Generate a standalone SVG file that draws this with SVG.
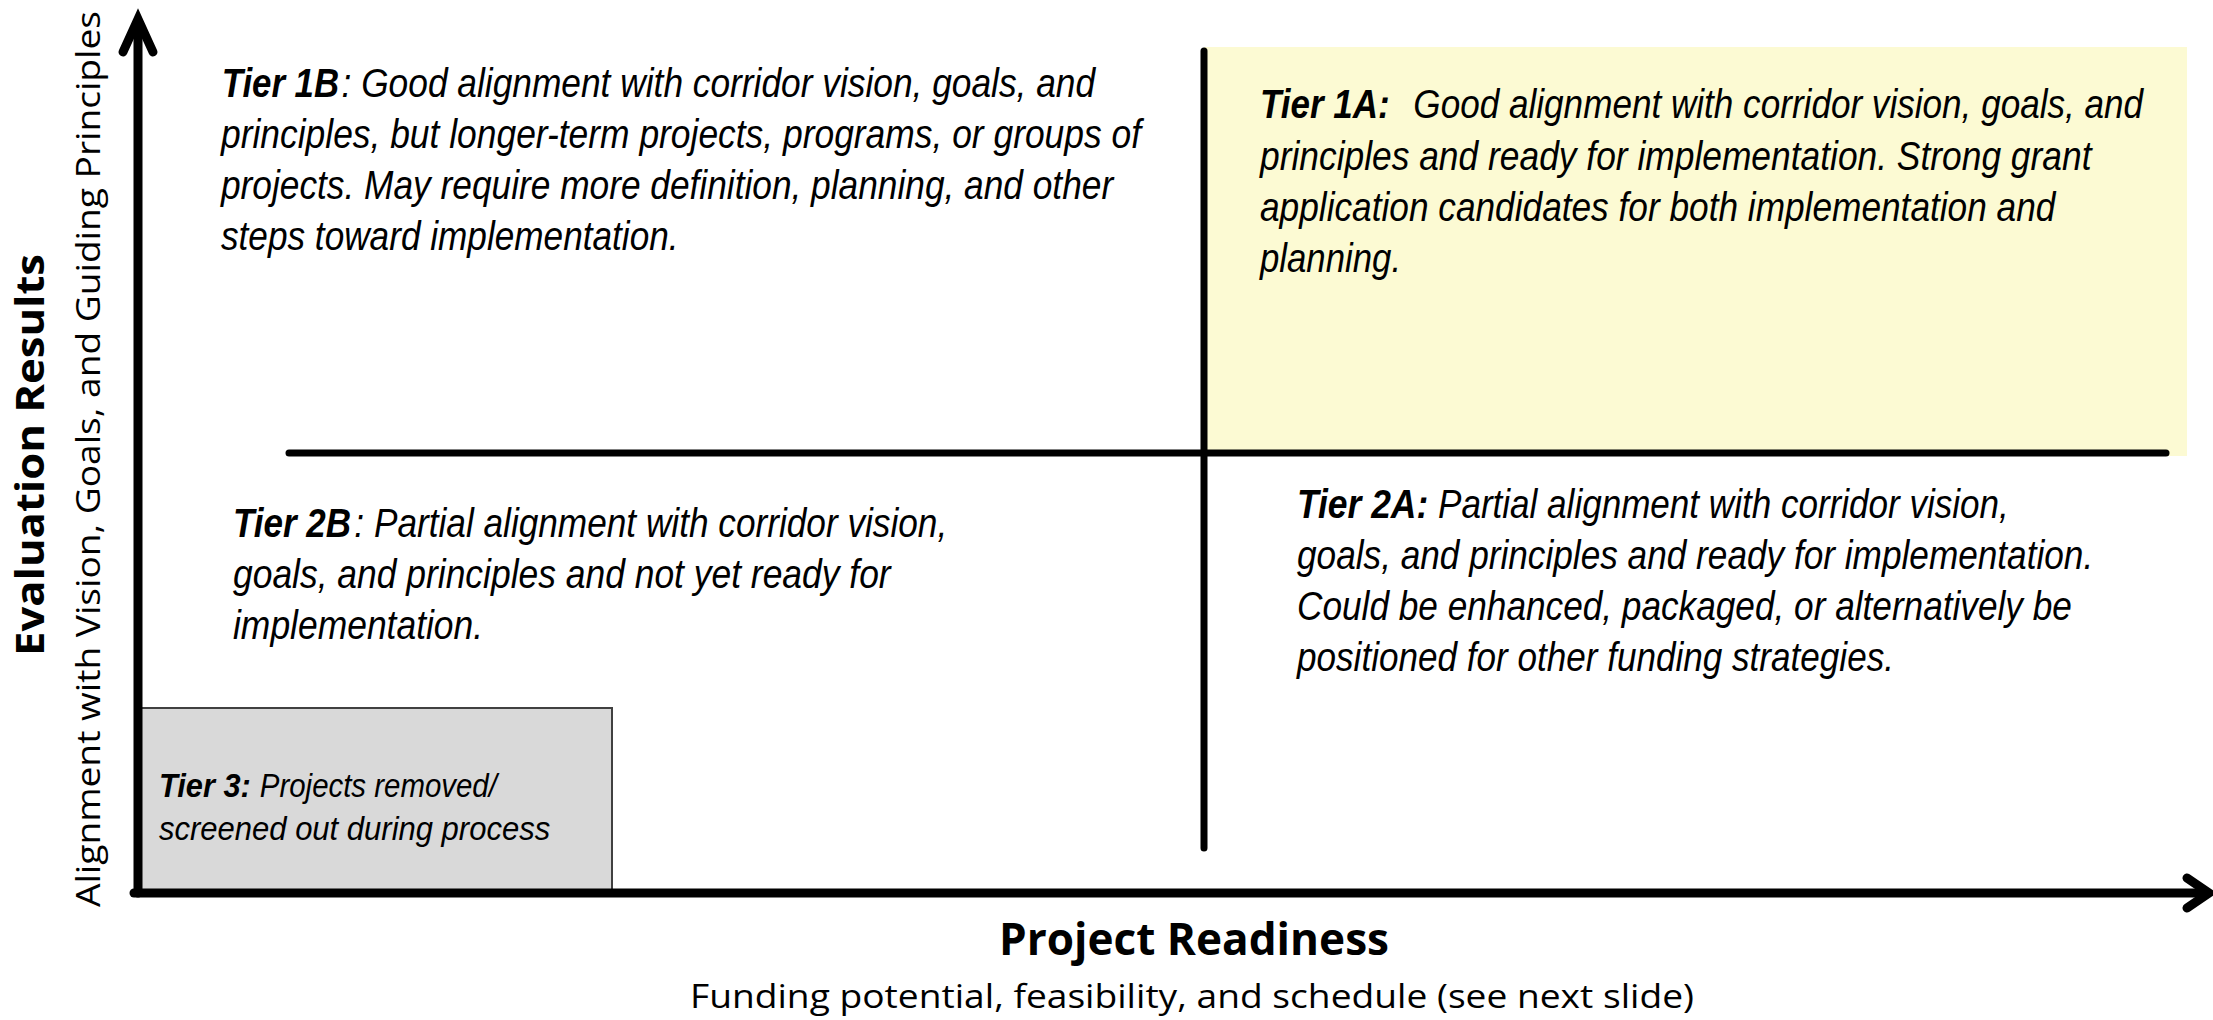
<svg xmlns="http://www.w3.org/2000/svg" width="2213" height="1020" viewBox="0 0 2213 1020">
<style>
.tier{font-family:"Liberation Sans Narrow","Arial Narrow","Liberation Sans",Arial,sans-serif;font-style:italic;font-size:40px;fill:#000}
.t3{font-size:33px}
.b{font-weight:bold}
.axlab{font-family:"Open Sans","Noto Sans","Liberation Sans",sans-serif;fill:#000}
.ln{stroke:#000;stroke-linecap:round;fill:none}
</style>
<rect x="0" y="0" width="2213" height="1020" fill="#ffffff"/>
<g id="tier1a">
<rect x="1204" y="47" width="983" height="409" fill="#FCFAD3"/>
<g transform="translate(1260,0) scale(0.82,1)">
<text class="tier b" x="0" y="118" textLength="158" lengthAdjust="spacingAndGlyphs">Tier 1A:</text>
<text class="tier" x="187" y="118" textLength="890" lengthAdjust="spacingAndGlyphs">Good alignment with corridor vision, goals, and</text>
<text class="tier" x="0" y="170" textLength="1014" lengthAdjust="spacingAndGlyphs">principles and ready for implementation. Strong grant</text>
<text class="tier" x="0" y="221" textLength="970" lengthAdjust="spacingAndGlyphs">application candidates for both implementation and</text>
<text class="tier" x="0" y="272" textLength="172" lengthAdjust="spacingAndGlyphs">planning.</text>
</g>
</g>
<g id="tier1b">
<g transform="translate(221,0) scale(0.82,1)">
<text class="tier b" x="1" y="97" textLength="143" lengthAdjust="spacingAndGlyphs">Tier 1B</text>
<text class="tier" x="147" y="97" textLength="919" lengthAdjust="spacingAndGlyphs">: Good alignment with corridor vision, goals, and</text>
<text class="tier" x="0" y="148" textLength="1122" lengthAdjust="spacingAndGlyphs">principles, but longer-term projects, programs, or groups of</text>
<text class="tier" x="0" y="199" textLength="1088" lengthAdjust="spacingAndGlyphs">projects. May require more definition, planning, and other</text>
<text class="tier" x="0" y="250" textLength="558" lengthAdjust="spacingAndGlyphs">steps toward implementation.</text>
</g>
</g>
<g id="tier2a">
<g transform="translate(1297,0) scale(0.82,1)">
<text class="tier b" x="0" y="518" textLength="160" lengthAdjust="spacingAndGlyphs">Tier 2A:</text>
<text class="tier" x="172" y="518" textLength="696" lengthAdjust="spacingAndGlyphs">Partial alignment with corridor vision,</text>
<text class="tier" x="0" y="569" textLength="971" lengthAdjust="spacingAndGlyphs">goals, and principles and ready for implementation.</text>
<text class="tier" x="0" y="620" textLength="945" lengthAdjust="spacingAndGlyphs">Could be enhanced, packaged, or alternatively be</text>
<text class="tier" x="0" y="671" textLength="728" lengthAdjust="spacingAndGlyphs">positioned for other funding strategies.</text>
</g>
</g>
<g id="tier2b">
<g transform="translate(233,0) scale(0.82,1)">
<text class="tier b" x="0" y="537" textLength="144" lengthAdjust="spacingAndGlyphs">Tier 2B</text>
<text class="tier" x="148" y="537" textLength="723" lengthAdjust="spacingAndGlyphs">: Partial alignment with corridor vision,</text>
<text class="tier" x="0" y="588" textLength="802" lengthAdjust="spacingAndGlyphs">goals, and principles and not yet ready for</text>
<text class="tier" x="0" y="639" textLength="305" lengthAdjust="spacingAndGlyphs">implementation.</text>
</g>
</g>
<g id="tier3">
<rect x="139" y="708" width="473" height="183" fill="#D9D9D9" stroke="#404040" stroke-width="2"/>
<g transform="translate(159,0) scale(0.82,1)">
<text class="tier t3 b" x="0" y="797" textLength="112" lengthAdjust="spacingAndGlyphs">Tier 3:</text>
<text class="tier t3" x="123" y="797" textLength="289" lengthAdjust="spacingAndGlyphs">Projects removed/</text>
<text class="tier t3" x="0" y="840" textLength="477" lengthAdjust="spacingAndGlyphs">screened out during process</text>
</g>
</g>
<g id="connectors">
<line class="ln" x1="138" y1="22" x2="138" y2="893" stroke-width="9" stroke-linecap="butt"/>
<polyline class="ln" points="123,52 138,19 153,52" stroke-width="9" stroke-linejoin="miter"/>
<line class="ln" x1="134" y1="893" x2="2206" y2="893" stroke-width="9" stroke-linecap="butt"/>
<polyline class="ln" points="2187,878 2209,893 2187,908" stroke-width="9" stroke-linejoin="miter"/>
<line class="ln" x1="289" y1="453" x2="2166" y2="453" stroke-width="7"/>
<line class="ln" x1="1204" y1="51" x2="1204" y2="848" stroke-width="7"/>
</g>
<g id="labels">
<text class="axlab" transform="translate(44,455) rotate(-90)" x="0" y="0" text-anchor="middle" font-size="40" font-weight="bold" textLength="402" lengthAdjust="spacingAndGlyphs">Evaluation Results</text>
<text class="axlab" transform="translate(100,459) rotate(-90)" x="0" y="0" text-anchor="middle" font-size="32" textLength="896" lengthAdjust="spacingAndGlyphs">Alignment with Vision, Goals, and Guiding Principles</text>
<text class="axlab" x="1194" y="955" text-anchor="middle" font-size="44" font-weight="bold" textLength="390" lengthAdjust="spacingAndGlyphs">Project Readiness</text>
<text class="axlab" x="1192" y="1008" text-anchor="middle" font-size="32" textLength="1004" lengthAdjust="spacingAndGlyphs">Funding potential, feasibility, and schedule (see next slide)</text>
</g>
</svg>
